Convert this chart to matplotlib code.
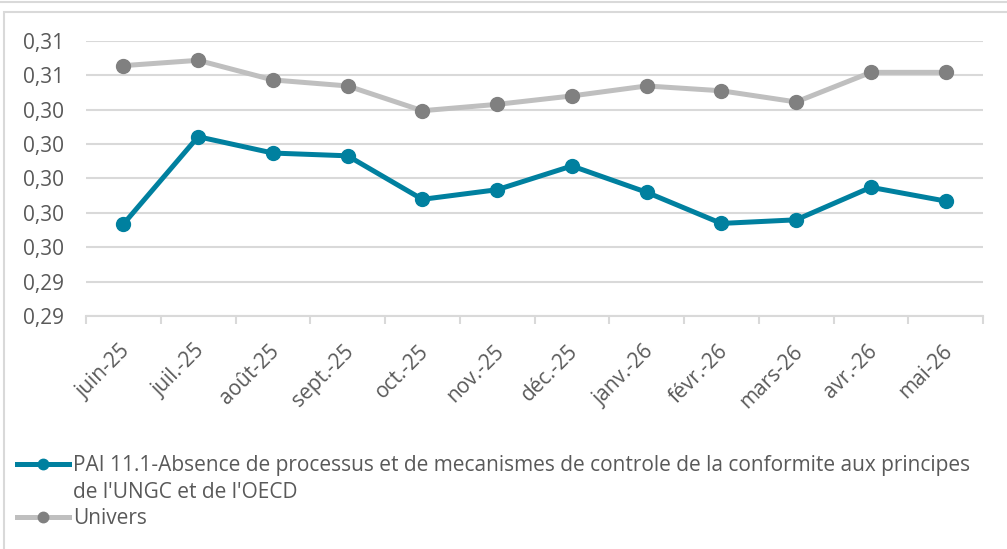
import matplotlib
matplotlib.use("Agg")
import matplotlib.pyplot as plt
from matplotlib.lines import Line2D
from matplotlib.patches import Rectangle
from matplotlib.ticker import FuncFormatter, FixedLocator
from matplotlib.transforms import ScaledTranslation
import numpy as np

plt.rcParams['font.family'] = ['Open Sans', 'DejaVu Sans']

months = ["juin-25", "juil.-25", "août-25", "sept.-25", "oct.-25", "nov.-25",
          "déc.-25", "janv.-26", "févr.-26", "mars-26", "avr.-26", "mai-26"]
pai = [0.29734, 0.30242, 0.30147, 0.30131, 0.29878, 0.29934,
       0.30072, 0.29919, 0.29738, 0.29759, 0.29948, 0.29868]
univers = [0.30655, 0.30686, 0.30572, 0.30537, 0.30393, 0.30430,
           0.30479, 0.30537, 0.30509, 0.30444, 0.30616, 0.30616]
y_ticks = [0.292, 0.294, 0.296, 0.298, 0.300, 0.302, 0.304, 0.306, 0.308]

pai_label_1 = "PAI 11.1-Absence de processus et de mecanismes de controle de la conformite aux principes"
pai_label_2 = "de l'UNGC et de l'OECD"
univers_label = "Univers"

TEAL = "#00809F"
GRAY_LINE = "#BFBFBF"
GRAY_MARK = "#808080"
GRID = "#D9D9D9"
TXT = "#595959"
FS = 15

W, H = 1007, 549
fig = plt.figure(figsize=(W / 100, H / 100), dpi=100)

# outer frame
fig.add_artist(Rectangle((3.5 / W, -0.1), 2, 1 - 11.5 / H + 0.1, transform=fig.transFigure,
                         fill=False, edgecolor=GRID, linewidth=1.5))
fig.add_artist(Line2D([0, 1], [1 - 2 / H, 1 - 2 / H], transform=fig.transFigure,
                      color=GRID, linewidth=1.5))

ax = fig.add_axes([86 / W, 1 - 316 / H, (983 - 86) / W, (316 - 40.7) / H])
x = np.arange(len(months))

ax.plot(x, univers, color=GRAY_LINE, linewidth=3.6, marker='o', markersize=10,
        markerfacecolor=GRAY_MARK, markeredgecolor=GRAY_MARK, zorder=3)
ax.plot(x, pai, color=TEAL, linewidth=3.6, marker='o', markersize=10,
        markerfacecolor=TEAL, markeredgecolor=TEAL, zorder=4)

ax.set_xlim(-0.5, len(months) - 0.5)
ax.set_ylim(y_ticks[0], y_ticks[-1])
ax.yaxis.set_major_locator(FixedLocator(y_ticks))
ax.yaxis.set_major_formatter(FuncFormatter(lambda v, p: f"{v:.2f}".replace('.', ',')))
ax.grid(axis='y', color=GRID, linewidth=1.5)
ax.set_axisbelow(True)
for s in ['top', 'right', 'left']:
    ax.spines[s].set_visible(False)
ax.spines['bottom'].set_color(GRID)
ax.spines['bottom'].set_linewidth(1.5)
ax.tick_params(axis='y', length=0, labelsize=FS, labelcolor=TXT, pad=16)

ax.set_xticks(x)
ax.set_xticklabels(months, rotation=45, ha='right', rotation_mode='anchor',
                   fontsize=FS, color=TXT)
ax.tick_params(axis='x', which='major', length=0, pad=18)
shift = ScaledTranslation(-4 / 100, 0, fig.dpi_scale_trans)
for lbl in ax.get_xticklabels():
    lbl.set_transform(lbl.get_transform() + shift)
ax.set_xticks(np.arange(-0.5, len(months), 1.0), minor=True)
ax.tick_params(axis='x', which='minor', length=6, width=1.5, color=GRID)

handles = [Line2D([], [], color=TEAL, linewidth=3.6, marker='o', markersize=7.5),
           Line2D([], [], color='none'),
           Line2D([], [], color=GRAY_LINE, linewidth=3.6, marker='o', markersize=7.5,
                  markerfacecolor=GRAY_MARK, markeredgecolor=GRAY_MARK)]
labels = [pai_label_1, pai_label_2, univers_label]
leg = fig.legend(handles, labels, loc='upper left', bbox_to_anchor=(17 / W, 1 - 455 / H),
                 frameon=False, fontsize=FS, handlelength=52 / (FS * 100 / 72),
                 handletextpad=0.2, labelspacing=0.27, borderaxespad=0, borderpad=0)
for t in leg.get_texts():
    t.set_color(TXT)

fig.savefig("out.png", dpi=100)
